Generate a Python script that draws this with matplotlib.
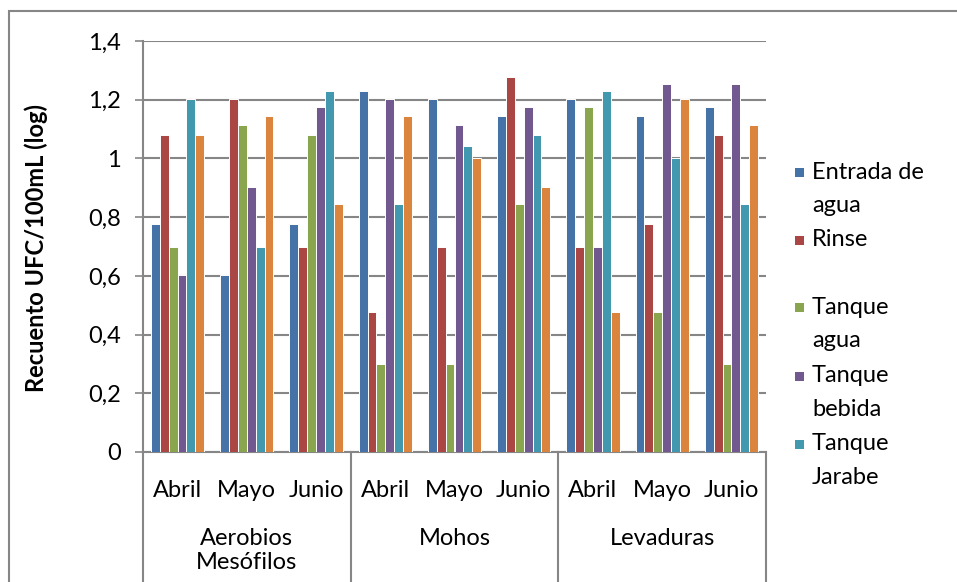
import numpy as np
import matplotlib.pyplot as plt
from matplotlib.lines import Line2D
from matplotlib.patches import Rectangle

plt.rcParams['font.family'] = ['Lato', 'DejaVu Sans']

# categories (month within organism group)
months = ['Abril', 'Mayo', 'Junio'] * 3
groups = ['Aerobios\nMesófilos', 'Mohos', 'Levaduras']

# series values (log UFC/100mL), one value per month/group
entrada = [0.778, 0.602, 0.778, 1.230, 1.204, 1.146, 1.204, 1.146, 1.176]
rinse = [1.079, 1.204, 0.699, 0.477, 0.699, 1.279, 0.699, 0.778, 1.079]
tanque_agua = [0.699, 1.114, 1.079, 0.301, 0.301, 0.845, 1.176, 0.477, 0.301]
tanque_bebida = [0.602, 0.903, 1.176, 1.204, 1.114, 1.176, 0.699, 1.255, 1.255]
tanque_jarabe = [1.204, 0.699, 1.230, 0.845, 1.041, 1.079, 1.230, 1.000, 0.845]
producto = [1.079, 1.146, 0.845, 1.146, 1.000, 0.903, 0.477, 1.204, 1.114]

series = [entrada, rinse, tanque_agua, tanque_bebida, tanque_jarabe, producto]
labels = ['Entrada de\nagua', 'Rinse', 'Tanque\nagua', 'Tanque\nbebida', 'Tanque\nJarabe']
colors = ['#4572A7', '#AA4643', '#89A54E', '#71588F', '#4198AF', '#DB843D']

W, H = 957, 582
fig = plt.figure(figsize=(W / 100, H / 100), dpi=100)
ax = fig.add_axes([143/W, 1-452/H, 623/W, 411/H])

# outer chart border
fig.add_artist(Rectangle((9/W, -0.1), 1.2, 1 - 11/H + 0.1, transform=fig.transFigure,
                         fill=False, edgecolor='#868686', linewidth=1.5))

x = np.arange(len(months))
w = 0.128
for j, (vals, c) in enumerate(zip(series, colors)):
    ax.bar(x + (j - 2.5) * w, vals, w, color=c, edgecolor='white', linewidth=0.7, zorder=3)

fs = 17
ax.set_xlim(-0.5, 8.5)
ax.set_ylim(0, 1.4)
ax.set_yticks(np.arange(0, 1.41, 0.2))
ax.set_yticklabels(['0', '0,2', '0,4', '0,6', '0,8', '1', '1,2', '1,4'], fontsize=fs)
ax.yaxis.grid(True, color='#868686', linewidth=1.5, zorder=0)
ax.set_axisbelow(True)
ax.tick_params(axis='y', direction='out', length=6, color='#868686', width=1.2, pad=10)
ax.set_xticks([])
for s in ['top', 'right']:
    ax.spines[s].set_visible(False)
for s in ['left', 'bottom']:
    ax.spines[s].set_color('#868686')
    ax.spines[s].set_linewidth(1.5)

# hierarchical category labels
for i, m in enumerate(months):
    ax.text(i, -0.094, m, transform=ax.get_xaxis_transform(), ha='center', va='center', fontsize=fs)
for k, g in enumerate(groups):
    ax.text(3 * k + 1, -0.186, g, transform=ax.get_xaxis_transform(), ha='center', va='top',
            fontsize=fs, linespacing=1.15)
for sep in [-0.5, 2.5, 5.5, 8.5]:
    ax.add_line(Line2D([sep, sep], [0, -0.35], transform=ax.get_xaxis_transform(),
                       color='#868686', linewidth=1.5, clip_on=False))

fig.text(36/W, 1-248/H, 'Recuento UFC/100mL (log)', rotation=90, ha='center', va='center',
         fontsize=17, fontweight='bold')

# legend (last series is cut off in the original, so only five entries)
entry_y = [172, 240, 307, 376, 444]
for lab, c, y0 in zip(labels, colors, entry_y):
    fig.add_artist(Rectangle((795/W, 1 - (y0 + 4.5)/H), 9/W, 9/H, transform=fig.transFigure,
                             facecolor=c, edgecolor='none'))
    for k, line in enumerate(lab.split('\n')):
        fig.text(812/W, 1 - (y0 + 33.5 * k)/H, line, ha='left', va='center', fontsize=fs)

fig.savefig('out.png', dpi=100)
